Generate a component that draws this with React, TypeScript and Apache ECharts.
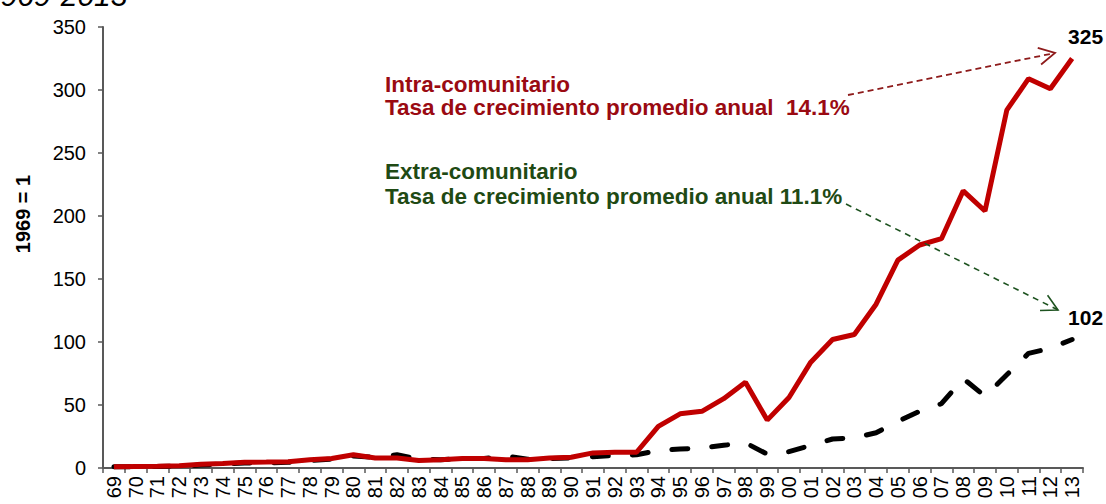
import React, { useEffect, useRef } from 'react';
import * as echarts from 'echarts';

const years = [
  '69', '70', '71', '72', '73', '74', '75', '76', '77', '78', '79',
  '80', '81', '82', '83', '84', '85', '86', '87', '88', '89',
  '90', '91', '92', '93', '94', '95', '96', '97', '98', '99',
  '00', '01', '02', '03', '04', '05', '06', '07', '08', '09',
  '10', '11', '12', '13',
];

const intraValues = [
  1, 1.2, 1.3, 1.8, 3, 3.5, 4.5, 4.7, 5, 6.5, 7.5,
  10.5, 8, 8, 6, 6.5, 7.5, 7.5, 6.5, 6.5, 8,
  8.5, 12, 12.5, 12.5, 33, 43, 45, 55, 68, 38,
  56, 84, 102, 106, 130, 165, 177, 182, 220, 204,
  284, 309, 301, 325,
];

const extraValues = [
  1, 1.1, 1.2, 1.5, 2.3, 3, 4, 4, 4.5, 6, 7,
  9.5, 8.5, 10.5, 7, 6.5, 7.5, 7.5, 9.5, 7, 7.5,
  8, 9, 10, 10.5, 14, 15, 16, 18, 20, 11,
  13, 18, 23, 24, 28, 37, 45, 51, 71, 57,
  74, 91, 95, 102,
];

const yAxisName = '1969 = 1';
const periodTitle = '1969-2013';
const intraTitle = 'Intra-comunitario';
const intraRate = 'Tasa de crecimiento promedio anual  14.1%';
const extraTitle = 'Extra-comunitario';
const extraRate = 'Tasa de crecimiento promedio anual 11.1%';

const FONT = '"Liberation Sans", Arial, Helvetica, sans-serif';
const RED_LINE = '#C00000';
const RED_TEXT = '#9A0A12';
const GREEN_TEXT = '#1F4A14';
const AXIS = '#595959';

function arrow(x1: number, y1: number, x2: number, y2: number, color: string, dash: number[], width: number) {
  const ang = Math.atan2(y2 - y1, x2 - x1);
  const L = 18;
  const spread = (28 * Math.PI) / 180;
  const a1 = ang + Math.PI - spread;
  const a2 = ang + Math.PI + spread;
  return [
    {
      type: 'line',
      z: 10,
      shape: { x1, y1, x2, y2 },
      style: { stroke: color, lineWidth: width, lineDash: dash },
    },
    {
      type: 'polyline',
      z: 10,
      shape: {
        points: [
          [x2 + L * Math.cos(a1), y2 + L * Math.sin(a1)],
          [x2, y2],
          [x2 + L * Math.cos(a2), y2 + L * Math.sin(a2)],
        ],
      },
      style: { stroke: color, lineWidth: width, fill: 'none' },
    },
  ];
}

function textEl(text: string, x: number, y: number, color: string, size: number) {
  return {
    type: 'text',
    z: 10,
    x,
    y,
    style: {
      text,
      fill: color,
      fontSize: size,
      fontWeight: 'bold',
      fontFamily: FONT,
      align: 'left',
      verticalAlign: 'middle',
    },
  };
}

export default function App() {
  const ref = useRef<HTMLDivElement>(null);

  useEffect(() => {
    if (!ref.current) return;
    const chart = echarts.init(ref.current, null, { renderer: 'svg' });

    const endLabel = {
      show: true,
      formatter: (p: any) => String(Math.round(p.value)),
      offset: [-12, -22],
      color: '#000',
      fontSize: 21,
      fontWeight: 'bold',
      fontFamily: FONT,
    };

    const option: any = {
      animation: false,
      backgroundColor: '#ffffff',
      grid: { left: 103, right: 23, top: 27, bottom: 36, containLabel: false },
      xAxis: {
        type: 'category',
        data: years,
        boundaryGap: true,
        axisLine: { show: true, lineStyle: { color: AXIS, width: 2 } },
        axisTick: { show: true, length: 5, lineStyle: { color: AXIS, width: 1.5 } },
        axisLabel: {
          interval: 0,
          rotate: 90,
          margin: 8,
          color: '#000',
          fontSize: 20,
          fontFamily: FONT,
        },
        splitLine: { show: false },
      },
      yAxis: {
        type: 'value',
        min: 0,
        max: 350,
        interval: 50,
        axisLine: { show: true, lineStyle: { color: AXIS, width: 2 } },
        axisTick: { show: true, length: 5, lineStyle: { color: AXIS, width: 1.5 } },
        axisLabel: { color: '#000', fontSize: 20, fontFamily: FONT, margin: 17 },
        splitLine: { show: false },
      },
      series: [
        {
          name: extraTitle,
          type: 'line',
          data: extraValues,
          showSymbol: false,
          symbol: 'none',
          z: 2,
          lineStyle: { color: '#000', width: 5, type: [16, 24], cap: 'round' },
          endLabel,
        },
        {
          name: intraTitle,
          type: 'line',
          data: intraValues,
          showSymbol: false,
          symbol: 'none',
          z: 3,
          lineStyle: { color: RED_LINE, width: 5 },
          endLabel,
        },
      ],
      graphic: [
        {
          type: 'text',
          x: -16,
          y: -5,
          style: {
            text: periodTitle,
            fill: '#000',
            fontSize: 30,
            fontStyle: 'italic',
            fontFamily: FONT,
            align: 'left',
            verticalAlign: 'middle',
          },
        },
        {
          type: 'text',
          x: 23,
          y: 214,
          rotation: Math.PI / 2,
          style: {
            text: yAxisName,
            fill: '#000',
            fontSize: 20,
            fontWeight: 'bold',
            fontFamily: FONT,
            align: 'center',
            verticalAlign: 'middle',
          },
        },
        textEl(intraTitle, 385, 84, RED_TEXT, 22.5),
        textEl(intraRate, 385, 107, RED_TEXT, 22.5),
        textEl(extraTitle, 385, 171, GREEN_TEXT, 22.5),
        textEl(extraRate, 385, 196, GREEN_TEXT, 22.5),
        ...arrow(848, 95, 1055, 53, '#8E1B1B', [6, 4], 1.8),
        ...arrow(846, 204, 1058, 310, '#1E5320', [6, 5], 1.6),
      ],
    };

    chart.setOption(option);
    return () => {
      chart.dispose();
    };
  }, []);

  return (
    <div
      ref={ref}
      style={{ position: 'absolute', left: 0, top: 0, width: 1106, height: 504 }}
    />
  );
}
